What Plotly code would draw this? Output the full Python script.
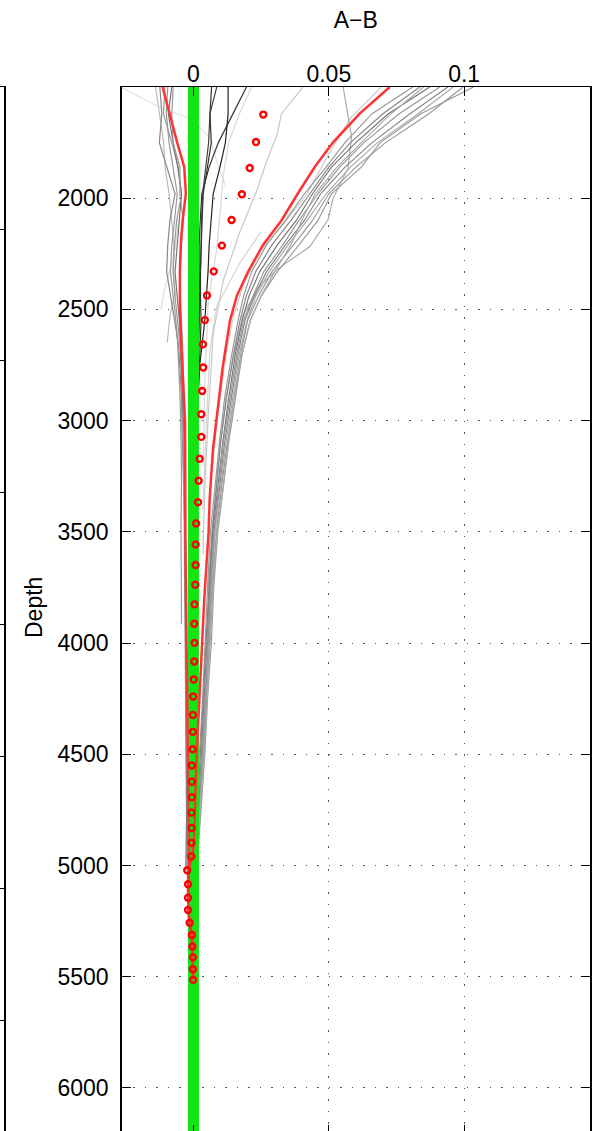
import plotly.graph_objects as go

# ---------------- data ----------------
# zero reference line
ref_x = [0, 0]
ref_depth = [1400, 6400]

# right cluster (grey), common depth grid
right_depth = [1500, 1620, 1750, 1860, 1980, 2100, 2210, 2330, 2440, 2550, 2700,
               2900, 3100, 3300, 3500, 3750, 4000, 4250, 4500, 4750, 5000]
right_lines = [
    [0.081, 0.066, 0.056, 0.049, 0.041, 0.034, 0.027, 0.0215, 0.0185, 0.0165, 0.0142,
     0.0115, 0.0096, 0.0080, 0.0063, 0.0052, 0.0044, 0.0034, 0.0022, 0.0012, 0.0007],
    [0.0836, 0.070, 0.058, 0.050, 0.043, 0.036, 0.029, 0.023, 0.0195, 0.0172, 0.0148,
     0.0122, 0.0100, 0.0084, 0.0069, 0.0057, 0.0047, 0.0037, 0.0025, 0.0015, 0.0008],
    [0.0873, 0.072, 0.060, 0.051, 0.044, 0.038, 0.031, 0.0245, 0.0205, 0.018, 0.0155,
     0.013, 0.0108, 0.0090, 0.0072, 0.006, 0.005, 0.004, 0.003, 0.0018, 0.0009],
    [0.091, 0.076, 0.063, 0.054, 0.046, 0.039, 0.033, 0.026, 0.022, 0.0185, 0.016,
     0.0135, 0.011, 0.0093, 0.0075, 0.0062, 0.0053, 0.0042, 0.0032, 0.002, 0.001],
    [0.094, 0.080, 0.066, 0.056, 0.047, 0.041, 0.034, 0.027, 0.0225, 0.019, 0.0165,
     0.014, 0.0115, 0.0097, 0.0078, 0.0065, 0.0055, 0.0045, 0.0035, 0.0022, 0.0011],
    [0.096, 0.083, 0.068, 0.058, 0.049, 0.042, 0.035, 0.028, 0.023, 0.0198, 0.017,
     0.0145, 0.012, 0.010, 0.008, 0.0068, 0.0058, 0.0047, 0.0037, 0.0024, 0.0012],
    [0.0996, 0.087, 0.071, 0.060, 0.050, 0.044, 0.037, 0.029, 0.024, 0.020, 0.0175,
     0.015, 0.0125, 0.0104, 0.0085, 0.007, 0.006, 0.0049, 0.0039, 0.0026, 0.0012],
    [0.1035, 0.084, 0.069, 0.062, 0.051, 0.046, 0.039, 0.031, 0.025, 0.021, 0.018,
     0.0155, 0.013, 0.011, 0.009, 0.0075, 0.0066, 0.0052, 0.0042, 0.0028, 0.0013],
    [0.085, 0.073, 0.062, 0.053, 0.045, 0.040, 0.036, 0.030, 0.025, 0.021, 0.018,
     0.015, 0.0128, 0.011, 0.0088, 0.0072, 0.0062, 0.005, 0.004, 0.0025, 0.0012],
]
right_colors = ["#999999", "#888888", "#777777", "#999999", "#888888",
                "#aaaaaa", "#999999", "#999999", "#aaaaaa"]

# separate grey profile near 0.055
mid_depth = [1500, 1724, 1865, 2000, 2097, 2217, 2322, 2403, 2523, 2700, 2900,
             3100, 3300, 3500, 3750]
mid_vals = [0.0553, 0.0584, 0.0571, 0.0516, 0.0497, 0.043, 0.0307, 0.0239, 0.0184,
            0.015, 0.012, 0.010, 0.0085, 0.007, 0.0055]

# left cluster (grey)
left_depth = [1500, 1620, 1750, 1860, 1980, 2100, 2210, 2330, 2440, 2550, 2660,
              2870, 3070, 3270, 3460, 3650, 3830, 4000, 4160, 4320, 4480, 4620,
              4760, 4900, 5020]
left_lines = [
    [-0.0124, -0.0117, -0.0126, -0.0099, -0.0068, -0.0087, -0.0095, -0.0099, -0.0085,
     -0.0070, -0.0055, -0.0045, -0.0040, -0.0035, -0.0033, -0.0032, -0.0030, -0.0029,
     -0.0028, -0.0027, -0.0026, -0.0025, -0.0025, -0.0024, -0.0022],
    [-0.0105, -0.0111, -0.0080, -0.0056, -0.0044, -0.0062, -0.0070, -0.0075, -0.0068,
     -0.0058, -0.0050, -0.0042, -0.0038, -0.0036, -0.0034, -0.0033, -0.0032, -0.0030,
     -0.0029, -0.0028, -0.0027, -0.0026, -0.0025, -0.0025, -0.0023],
    [-0.0080, -0.0093, -0.0075, -0.0058, -0.0044, -0.0052, -0.0060, -0.0068, -0.0060,
     -0.0052, -0.0047, -0.0040, -0.0035, -0.0033, -0.0031, -0.0030, -0.0029, -0.0028,
     -0.0027, -0.0026, -0.0026, -0.0025, -0.0025, -0.0027, -0.0028],
    [-0.0075, -0.0080, -0.0075, -0.0050, -0.0050, -0.0038, -0.0044, -0.0050, -0.0048,
     -0.0044, -0.0040, -0.0036, -0.0032, -0.0030, -0.0029, -0.0028, -0.0027, -0.0026,
     -0.0025, -0.0024, -0.0024, -0.0023, -0.0023, -0.0022, -0.0021],
]
left_colors = ["#888888", "#999999", "#777777", "#999999"]

short_a_depth = [1500, 1620, 1750, 1860, 1980, 2100, 2210, 2320, 2425, 2530, 2650]
short_a_vals = [-0.0140, -0.0125, -0.0110, -0.0105, -0.0090, -0.0080, -0.0072,
                -0.0075, -0.0068, -0.0087, -0.0097]
short_b_depth = [1500, 1620, 1750, 1860, 1980, 2100, 2210, 2330, 2440, 2550, 2660,
                 2870, 3070, 3270, 3460, 3650, 3830, 3913]
short_b_vals = [-0.0095, -0.0100, -0.0090, -0.0075, -0.0060, -0.0070, -0.0080,
                -0.0085, -0.0075, -0.0065, -0.0058, -0.0050, -0.0046, -0.0044,
                -0.0046, -0.0045, -0.0044, -0.0044]

# dark profiles
dark_depth = [1500, 1620, 1750, 1860, 1980, 2100, 2210, 2330, 2440, 2550, 2660,
              2760, 2870, 3000]
dark_lines = [
    [0.0196, 0.0146, 0.0092, 0.0058, 0.0031, 0.0025, 0.0021, 0.0021, 0.0022, 0.0020,
     0.0018, 0.0016, 0.0015, 0.0013],
    [0.0128, 0.0128, 0.0118, 0.0098, 0.0073, 0.0064, 0.0058, 0.0054, 0.0049, 0.0042,
     0.0032, 0.0022, 0.0018, 0.0014],
    [0.0086, 0.0061, 0.0056, 0.0045, 0.0034, 0.0030, 0.0028, 0.0024, 0.0022, 0.0020,
     0.0018, 0.0016, 0.0015, 0.0013],
    [0.0067, 0.0061, 0.0066, 0.0052, 0.0036, 0.0032, 0.0029, 0.0026, 0.0026, 0.0028,
     0.0025, 0.0022, 0.0018, 0.0014],
]
dark_colors = ["#333333", "#222222", "#444444", "#333333"]

# light profiles
light1_depth = [1500, 1620, 1710, 1835, 1970, 2150, 2370, 2610, 2970, 3300, 3600]
light1_vals = [0.0405, 0.0325, 0.031, 0.027, 0.0233, 0.0172, 0.011, 0.0073, 0.0055,
               0.0042, 0.0035]
light2_depth = [1500, 1620, 1750, 1900, 2050, 2230, 2455, 2830, 3200]
light2_vals = [0.0215, 0.0170, 0.0130, 0.0110, 0.0100, 0.0086, 0.0055, 0.0042, 0.0035]
light3_depth = [1500, 1640, 1800, 1980, 2120, 2240, 2390, 2535, 2690, 2970, 3200]
light3_vals = [0.0694, 0.058, 0.050, 0.042, 0.033, 0.0245, 0.0184, 0.0147, 0.0122,
               0.009, 0.007]
light4_depth = [1500, 1545, 1600, 1640, 1725, 1850, 1950]
light4_vals = [-0.027, -0.0197, -0.0111, -0.0013, 0.006, 0.009, 0.012]
light5_depth = [2100, 2230, 2320, 2435, 2500]
light5_vals = [-0.0055, -0.0068, -0.0087, -0.0111, -0.0120]
light6_depth = [2150, 2290, 2485, 2680, 3000, 3400]
light6_vals = [0.025, 0.0172, 0.0086, 0.0061, 0.0048, 0.0035]

# red profiles
red_right_depth = [1500, 1620, 1750, 1860, 1980, 2100, 2210, 2330, 2440, 2550, 2760,
                   2970, 3130, 3350, 3500, 3800, 4020, 4240, 4550, 4850, 4960, 5021,
                   5084, 5145, 5200, 5257, 5312, 5364, 5413, 5466, 5514]
red_right_vals = [0.0725, 0.0614, 0.0515, 0.0448, 0.0385, 0.0325, 0.0257, 0.0202,
                  0.016, 0.0135, 0.0108, 0.0088, 0.0072, 0.0060, 0.0056, 0.0040,
                  0.0031, 0.0021, 0.0010, 0.0003, -0.0003, -0.0020, -0.0020, -0.0020,
                  -0.0019, -0.0014, -0.0006, -0.0004, -0.0002, -0.0002, -0.0001]
red_left_depth = [1500, 1620, 1750, 1860, 1980, 2100, 2210, 2330, 2500, 2680, 3000,
                  3500, 4000, 4500, 4800, 5000, 5084, 5145, 5200, 5257, 5312, 5364,
                  5413, 5466, 5514]
red_left_vals = [-0.0114, -0.0089, -0.0060, -0.0034, -0.0028, -0.0040, -0.0047,
                 -0.0050, -0.0050, -0.0044, -0.0031, -0.0030, -0.0025, -0.0021,
                 -0.0018, -0.0016, -0.0020, -0.0020, -0.0019, -0.0014, -0.0006,
                 -0.0004, -0.0002, -0.0002, -0.0001]

# red open circles
circ_depth = [1624, 1747, 1864, 1982, 2098, 2213, 2329, 2437, 2548, 2657, 2761, 2867,
              2971, 3073, 3171, 3270, 3367, 3462, 3557, 3649, 3738, 3826, 3913, 3999,
              4083, 4164, 4240, 4323, 4399, 4477, 4550, 4623, 4693, 4762, 4831, 4898,
              4959, 5021, 5084, 5145, 5200, 5257, 5312, 5364, 5413, 5466, 5514]
circ_vals = [0.0258, 0.0231, 0.0208, 0.0179, 0.0141, 0.0105, 0.0075, 0.0050, 0.0042,
             0.0035, 0.0036, 0.0032, 0.0029, 0.0029, 0.0023, 0.0019, 0.0017, 0.0010,
             0.0008, 0.0008, 0.0007, 0.0004, 0.0003, 0.0004, 0.0003, 0.0001, -0.0001,
             -0.0002, -0.0002, -0.0003, -0.0006, -0.0006, -0.0006, -0.0007, -0.0007,
             -0.0007, -0.0008, -0.0023, -0.0020, -0.0020, -0.0020, -0.0014, -0.0006,
             -0.0004, -0.0002, -0.0002, -0.0001]

# axes
x_ticks = [0, 0.05, 0.1]
x_labels = ["0", "0.05", "0.1"]
y_ticks = [2000, 2500, 3000, 3500, 4000, 4500, 5000, 5500, 6000]
x_range = [-0.0265, 0.1465]
y_range = [6207, 1500]
side_ticks = [1, 2, 3, 4, 5, 6, 7]
side_range = [7.864, -0.078]

# ---------------- figure ----------------
FONT = "Liberation Sans, Arial, Helvetica, sans-serif"
fig = go.Figure()


def add_line(xs, ys, color, width=1.2):
    fig.add_trace(go.Scatter(x=xs, y=ys, mode="lines",
                             line=dict(color=color, width=width),
                             showlegend=False, hoverinfo="skip"))


# light lines first
add_line(light4_vals, light4_depth, "#e2e2e2")
add_line(light5_vals, light5_depth, "#dddddd")
add_line(light2_vals, light2_depth, "#d8d8d8")
add_line(light6_vals, light6_depth, "#d4d4d4")
add_line(light1_vals, light1_depth, "#c8c8c8")
add_line(light3_vals, light3_depth, "#cccccc")
add_line(short_a_vals, short_a_depth, "#bbbbbb")

add_line(mid_vals, mid_depth, "#aaaaaa")
for vals, col in zip(right_lines, right_colors):
    add_line(vals, right_depth, col)
add_line(short_b_vals, short_b_depth, "#999999")
for vals, col in zip(left_lines, left_colors):
    add_line(vals, left_depth, col)
for vals, col in zip(dark_lines, dark_colors):
    add_line(vals, dark_depth, col)

# zero line
add_line(ref_x, ref_depth, "#12e612", width=11)

# red lines
add_line(red_left_vals, red_left_depth, "#ff3333", width=2.5)
add_line(red_right_vals, red_right_depth, "#ff3333", width=2.5)

fig.add_trace(go.Scatter(x=circ_vals, y=circ_depth, mode="markers",
                         marker=dict(symbol="circle-open", size=6, color="#ff0000",
                                     line=dict(width=2.4, color="#ff0000")),
                         showlegend=False, hoverinfo="skip"))

# partial neighbour panel (only its right edge is visible)
fig.add_trace(go.Scatter(x=[], y=[], xaxis="x2", yaxis="y2", showlegend=False))

axis_common = dict(showline=True, linecolor="black", linewidth=1.5,
                   ticks="inside", ticklen=9, tickcolor="black", tickwidth=1,
                   mirror="ticks", showgrid=True, gridcolor="#555555",
                   gridwidth=1, griddash="1.5px,10px", zeroline=False,
                   tickfont=dict(family=FONT, size=23, color="black"))

# plot area runs slightly past the bottom of the window (cropped like the original)
FIG_H = 1136

fig.update_layout(
    width=613, height=FIG_H,
    margin=dict(l=0, r=23, t=87, b=0),
    paper_bgcolor="white", plot_bgcolor="white",
    title=dict(text="A\u2212B", x=0.6031, xref="paper", xanchor="center",
               y=1 - 19.5 / FIG_H, yref="container", yanchor="middle",
               font=dict(family=FONT, size=23, color="black")),
    xaxis=dict(domain=[0.2063, 1], range=x_range, side="top",
               tickvals=x_ticks, ticktext=x_labels, anchor="y",
               ticklabelstandoff=-6, **axis_common),
    yaxis=dict(domain=[0, 1], range=y_range, tickvals=y_ticks, anchor="x",
               ticklabelstandoff=7, **axis_common),
    xaxis2=dict(domain=[0, 4 / 590], range=[0, 1], side="top", anchor="y2",
                showline=True, linecolor="black", linewidth=1.5,
                showticklabels=False, showgrid=False, zeroline=False, ticks=""),
    yaxis2=dict(domain=[0, 1], range=side_range, side="right", anchor="x2",
                showline=True, linecolor="black", linewidth=1.5,
                ticks="inside", ticklen=4, tickcolor="black", tickvals=side_ticks,
                showticklabels=False, showgrid=False, zeroline=False),
    annotations=[dict(text="Depth", x=34 / 590, y=(1136 - 609) / (FIG_H - 87),
                      xref="paper", yref="paper",
                      xanchor="center", yanchor="middle", textangle=-90,
                      showarrow=False,
                      font=dict(family=FONT, size=23, color="black"))],
)

fig.write_html("out.html",
               config={"displayModeBar": False, "staticPlot": True},
               post_script="document.body.style.margin='0px';"
                           "document.body.style.overflow='hidden';")
